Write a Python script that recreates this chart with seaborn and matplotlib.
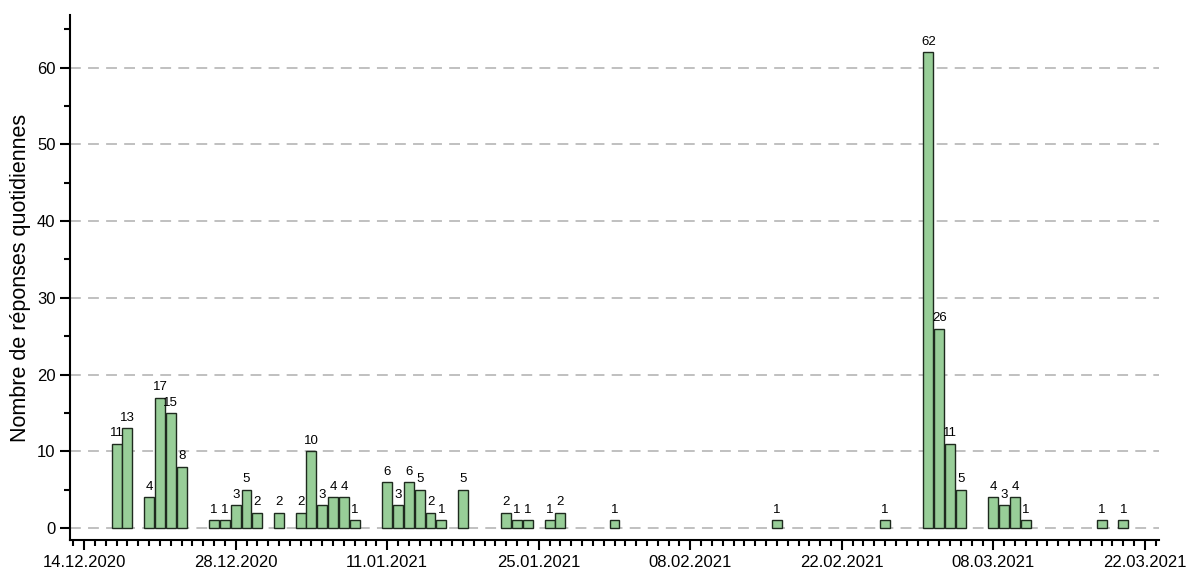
import matplotlib
matplotlib.use("Agg")
import matplotlib.pyplot as plt
import matplotlib.dates as mdates
import matplotlib.ticker as mticker
import seaborn as sns
import pandas as pd
import numpy as np

dates = ["2020-12-17", "2020-12-18", "2020-12-20", "2020-12-21", "2020-12-22", "2020-12-23",
         "2020-12-26", "2020-12-27", "2020-12-28", "2020-12-29", "2020-12-30", "2021-01-01",
         "2021-01-03", "2021-01-04", "2021-01-05", "2021-01-06", "2021-01-07", "2021-01-08",
         "2021-01-11", "2021-01-12", "2021-01-13", "2021-01-14", "2021-01-15", "2021-01-16",
         "2021-01-18", "2021-01-22", "2021-01-23", "2021-01-24", "2021-01-26", "2021-01-27",
         "2021-02-01", "2021-02-16", "2021-02-26", "2021-03-02", "2021-03-03", "2021-03-04",
         "2021-03-05", "2021-03-08", "2021-03-09", "2021-03-10", "2021-03-11", "2021-03-18",
         "2021-03-20"]
counts = [11, 13, 4, 17, 15, 8,
          1, 1, 3, 5, 2, 2,
          2, 10, 3, 4, 4, 1,
          6, 3, 6, 5, 2, 1,
          5, 2, 1, 1, 1, 2,
          1, 1, 1, 62, 26, 11,
          5, 4, 3, 4, 1, 1,
          1]
tick_dates = ["2020-12-14", "2020-12-28", "2021-01-11", "2021-01-25", "2021-02-08",
              "2021-02-22", "2021-03-08", "2021-03-22"]
ylabel = "Nombre de réponses quotidiennes"

sns.set_theme(style="ticks")
plt.rcParams['font.family'] = ['Liberation Sans', 'DejaVu Sans']
plt.rcParams['text.color'] = 'black'
plt.rcParams['axes.labelcolor'] = 'black'
plt.rcParams['xtick.color'] = 'black'
plt.rcParams['ytick.color'] = 'black'

df = pd.DataFrame({"date": mdates.date2num(pd.to_datetime(dates)), "n": counts})

fig = plt.figure(figsize=(11.88, 5.71), dpi=100)
ax = fig.add_axes([0.059, 0.054, 0.917, 0.92])

sns.barplot(data=df, x="date", y="n", native_scale=True, width=0.92,
            color="#98CE98", saturation=1, edgecolor="#1e2a1e", linewidth=1.0, ax=ax,
            zorder=3)

for c in ax.containers:
    ax.bar_label(c, fontsize=9.5, padding=3, color="black")

t0 = mdates.date2num(pd.Timestamp("2020-12-14"))
ax.set_xlim(t0 - 1.3, t0 + 99.35)
ax.set_ylim(-1.6, 66.9)

ax.set_xticks(mdates.date2num(pd.to_datetime(tick_dates)))
ax.xaxis.set_major_formatter(mdates.DateFormatter("%d.%m.%Y"))
ax.xaxis.set_minor_locator(mticker.MultipleLocator(1))
ax.yaxis.set_major_locator(mticker.MultipleLocator(10))
ax.yaxis.set_minor_locator(mticker.MultipleLocator(5))

ax.tick_params(axis="both", which="major", direction="out", length=7, width=1.5,
               labelsize=12, color="black", labelcolor="black")
ax.tick_params(axis="both", which="minor", direction="out", length=4, width=1.5, color="black")
ax.yaxis.grid(True, which="major", color="#bbbbbb", linestyle=(0, (6, 4)), linewidth=1.3, zorder=0)
ax.set_axisbelow(True)

for s in ["top", "right"]:
    ax.spines[s].set_visible(False)
for s in ["left", "bottom"]:
    ax.spines[s].set_linewidth(1.5)
    ax.spines[s].set_color("black")

ax.set_xlabel("")
ax.set_ylabel(ylabel, fontsize=15.5, color="black", labelpad=4)

fig.savefig("out.png", dpi=100)
